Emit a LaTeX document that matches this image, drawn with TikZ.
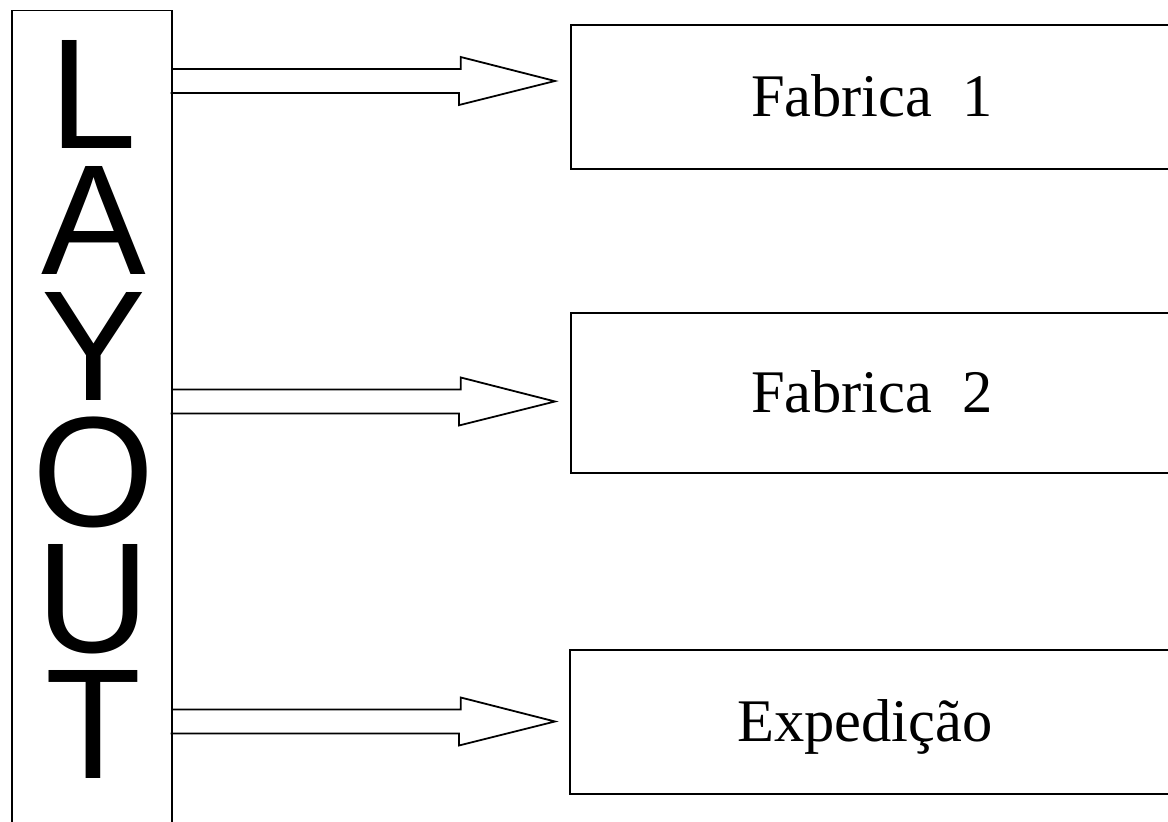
\documentclass[tikz,border=0pt]{standalone}
\usepackage{fontspec}
\newfontfamily\serifx{Liberation Serif}
\newfontfamily\sansx{Liberation Sans}
\begin{document}
\begin{tikzpicture}[x=1pt,y=-1pt,
  line width=1.8pt,
  bigletter/.style={inner sep=0pt,anchor=base,text height=108pt,text depth=0pt,font=\sansx\fontsize{157}{157}\selectfont},
  fbox/.style={draw,inner sep=0pt,minimum width=602pt,font=\serifx\fontsize{60.5}{60.5}\selectfont,text height=39pt,text depth=0pt},
  blk/.style={draw,line join=miter}]
\useasboundingbox (0,0) rectangle (1168,822);
\fill[white] (0,0) rectangle (1168,822);
\clip (0,0) rectangle (1168,822);
% left LAYOUT box
\node[draw,inner sep=0pt,minimum width=160pt,minimum height=840pt,anchor=north west] (lay) at (10.7,9.5) {};
\node[bigletter] (l1) at (93.5,148) {L};
\node[bigletter] (l2) at (93.5,274) {A};
\node[bigletter] (l3) at (93.5,400) {Y};
\node[bigletter] (l4) at (93.5,526) {O};
\node[bigletter] (l5) at (93.5,652) {U};
\node[bigletter] (l6) at (93.5,778) {T};
% right boxes
\node[fbox,minimum height=144pt] (f1) at (872,97) {Fabrica~~1};
\node[fbox,minimum height=160pt] (f2) at (872,393) {Fabrica~~2};
\node[fbox,minimum height=144pt] (f3) at (871,722) {\hspace*{-12pt}Expedição};
% block arrows
\coordinate (tip1) at (555,81);
\coordinate (tip2) at (555,401.5);
\coordinate (tip3) at (555,721.5);
\foreach \i in {1,2,3}{
  \draw[blk] (lay.east |- tip\i) ++(0,-12) -- ++(288.3,0) -- ++(0,-12) -- (tip\i)
    -- ++(-96,24) -- ++(0,-12) -- ++(-288.3,0);
}
\end{tikzpicture}
\end{document}
